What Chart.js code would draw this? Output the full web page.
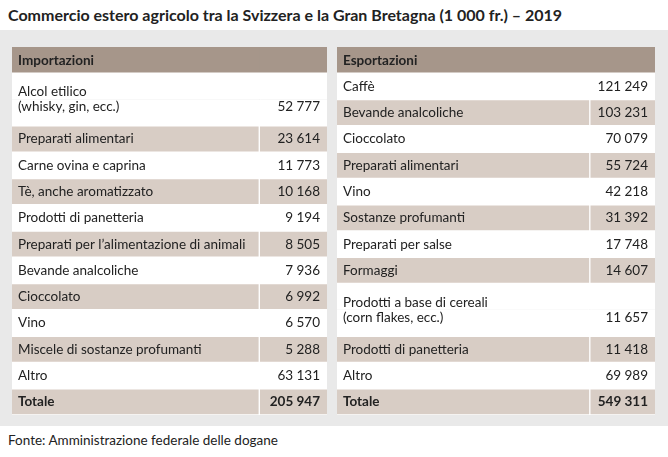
<!DOCTYPE html>
<html><head><meta charset="utf-8">
<script src="https://cdn.jsdelivr.net/npm/chart.js@4"></script>
<style>
body{margin:0;width:668px;height:457px;background:#fff;font-family:Lato,"Open Sans",sans-serif;position:relative;overflow:hidden}
#title{position:absolute;left:8px;top:5px;font-size:16px;font-weight:bold;color:#222}
#panel{position:absolute;left:0;top:30px;width:668px;height:396px;background:#e9e9e9}
#src{position:absolute;left:8px;top:432px;font-size:13.5px;color:#222}
canvas{position:absolute}
</style></head><body>
<div id="title">Commercio estero agricolo tra la Svizzera e la Gran Bretagna (1 000 fr.) – 2019</div>
<div id="panel"></div>
<canvas id="c1" style="left:12px;top:47px" width="315" height="368"></canvas>
<canvas id="c2" style="left:337px;top:47px" width="318" height="368"></canvas>
<div id="src">Fonte: Amministrazione federale delle dogane</div>
<script>
const importHeader = "Importazioni";
const importLabels = ["Alcol etilico\n(whisky, gin, ecc.)","Preparati alimentari","Carne ovina e caprina","Tè, anche aromatizzato","Prodotti di panetteria","Preparati per l’alimentazione di animali","Bevande analcoliche","Cioccolato","Vino","Miscele di sostanze profumanti","Altro","Totale"];
const importValues = ["52 777","23 614","11 773","10 168","9 194","8 505","7 936","6 992","6 570","5 288","63 131","205 947"];
const exportHeader = "Esportazioni";
const exportLabels = ["Caffè","Bevande analcoliche","Cioccolato","Preparati alimentari","Vino","Sostanze profumanti","Preparati per salse","Formaggi","Prodotti a base di cereali\n(corn flakes, ecc.)","Prodotti di panetteria","Altro","Totale"];
const exportValues = ["121 249","103 231","70 079","55 724","42 218","31 392","17 748","14 607","11 657","11 418","69 989","549 311"];

const HEAD='#a6968a', SHADE='#d8cdc5', WHITE='#ffffff';
function makeTable(id, header, labels, values, split){
  const rows=[{t:header,v:'',kind:'h'}];
  labels.forEach((l,i)=>rows.push({t:l,v:values[i],kind:i===labels.length-1?'tot':(i%2?'s':'w')}));
  const units=[], rowUnits=[];
  rows.forEach((r,ri)=>{const n=r.t.split('\n').length;const idx=[];for(let k=0;k<n;k++){idx.push(units.length);units.push(ri);}rowUnits.push(idx);});
  const col=k=>{const r=rows[units[k]];return r.kind==='h'?HEAD:(r.kind==='w'?WHITE:SHADE);};
  const bw=(k,side)=>{const o={left:0,right:0,top:0,bottom:0};if(rows[units[k]].kind!=='h')o[side]=1;return o;};
  const cats=units.map((_,k)=>'u'+k);
  new Chart(document.getElementById(id),{type:'bar',
    data:{labels:cats,datasets:[
      {data:units.map(()=>split),backgroundColor:units.map((_,k)=>col(k)),borderColor:'#fff',borderWidth:units.map((_,k)=>bw(k,'right')),borderSkipped:false},
      {data:units.map(()=>100-split),backgroundColor:units.map((_,k)=>col(k)),borderColor:'#fff',borderWidth:units.map((_,k)=>bw(k,'left')),borderSkipped:false}]},
    options:{indexAxis:'y',responsive:false,animation:false,devicePixelRatio:1,
      layout:{padding:0},
      datasets:{bar:{categoryPercentage:1,barPercentage:1}},
      scales:{x:{stacked:true,min:0,max:100,display:false},y:{stacked:true,display:false}},
      plugins:{legend:{display:false},tooltip:{enabled:false}}},
    plugins:[{id:'txt',afterDatasetsDraw(ch){
      const c=ch.ctx,x=ch.scales.x,y=ch.scales.y;
      c.save();c.strokeStyle='#fff';c.lineWidth=1.5;
      const uh=(y.getPixelForValue(1)-y.getPixelForValue(0));
      rowUnits.forEach(idx=>{const yb=y.getPixelForValue(idx[idx.length-1])+uh/2;c.beginPath();c.moveTo(x.left,yb);c.lineTo(x.right,yb);c.stroke();});
      c.fillStyle='#222';c.textBaseline='middle';
      rows.forEach((r,ri)=>{
        const idx=rowUnits[ri];const lines=r.t.split('\n');
        c.font=((r.kind==='h'||r.kind==='tot')?'bold ':'')+'13.5px Lato, sans-serif';
        c.textAlign='left';
        const yc=(y.getPixelForValue(idx[0])+y.getPixelForValue(idx[idx.length-1]))/2;
        const lh=15, y0=yc-(lines.length-1)*lh/2;
        lines.forEach((l,k)=>c.fillText(l,x.left+6,y0+k*lh));
        c.textAlign='right';
        if(r.v)c.fillText(r.v,x.right-7,y0+(lines.length-1)*lh);
      });
      c.restore();}}]
  });
}
makeTable('c1',importHeader,importLabels,importValues,78.5);
makeTable('c2',exportHeader,exportLabels,exportValues,79.5);
</script></body></html>
